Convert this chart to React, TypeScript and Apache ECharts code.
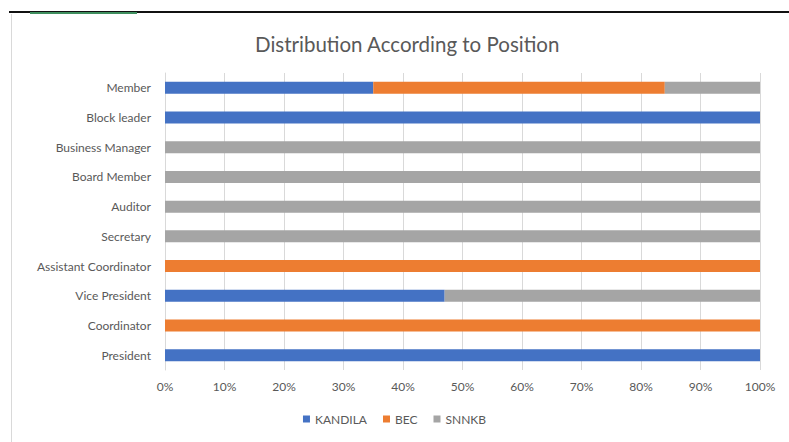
import React, { useEffect, useRef } from "react";
import * as echarts from "echarts";

const categories = [
  "President",
  "Coordinator",
  "Vice President",
  "Assistant Coordinator",
  "Secretary",
  "Auditor",
  "Board Member",
  "Business Manager",
  "Block leader",
  "Member",
];
const kandila = [100, 0, 47, 0, 0, 0, 0, 0, 100, 35];
const bec = [0, 100, 0, 100, 0, 0, 0, 0, 0, 49];
const snnkb = [0, 0, 53, 0, 100, 100, 100, 100, 0, 16];
const seriesNames = ["KANDILA", "BEC", "SNNKB"];
const colors = ["#4472C4", "#ED7D31", "#A5A5A5"];

const FONT = "Lato, 'Open Sans', sans-serif";

export default function App() {
  const ref = useRef<HTMLDivElement>(null);
  useEffect(() => {
    const chart = echarts.init(ref.current!, undefined, { renderer: "svg" });
    const data = [kandila, bec, snnkb];
    chart.setOption({
      animation: false,
      backgroundColor: "#ffffff",
      title: {
        text: "Distribution According to Position",
        left: 250,
        top: 28,
        textStyle: { fontFamily: FONT, fontSize: 20.5, fontWeight: "normal", color: "#595959" },
      },
      legend: {
        bottom: 12,
        left: "center",
        itemWidth: 7,
        itemHeight: 7,
        itemGap: 16,
        icon: "rect",
        textStyle: { fontFamily: FONT, fontSize: 12, color: "#595959" },
        data: seriesNames,
      },
      grid: { left: 165, right: 29, top: 73, bottom: 72 },
      xAxis: {
        type: "value",
        min: 0,
        max: 100,
        interval: 10,
        axisLabel: {
          formatter: (v: number) => v + "%",
          fontFamily: FONT,
          fontSize: 12,
          color: "#595959",
          margin: 10,
        },
        axisLine: { show: false },
        axisTick: { show: false },
        splitLine: { lineStyle: { color: "#d9d9d9", width: 1 } },
      },
      yAxis: {
        type: "category",
        data: categories,
        axisLabel: { fontFamily: FONT, fontSize: 12, color: "#595959", margin: 14 },
        axisLine: { show: true, lineStyle: { color: "#d9d9d9" } },
        axisTick: { show: false },
      },
      series: seriesNames.map((name, i) => ({
        name,
        type: "bar",
        stack: "total",
        barWidth: 12,
        itemStyle: { color: colors[i] },
        data: data[i],
      })),
      graphic: [
        { type: "rect", shape: { x: 9, y: 11, width: 780, height: 2 }, style: { fill: "#111111" } },
        { type: "rect", shape: { x: 30, y: 12, width: 107, height: 2 }, style: { fill: "#3f8f5f" } },
        { type: "rect", shape: { x: 11, y: 14, width: 1, height: 428 }, style: { fill: "#d9d9d9" } },
      ],
    });
    return () => chart.dispose();
  }, []);
  return <div ref={ref} style={{ position: "absolute", left: 0, top: 0, width: 789, height: 442 }} />;
}
